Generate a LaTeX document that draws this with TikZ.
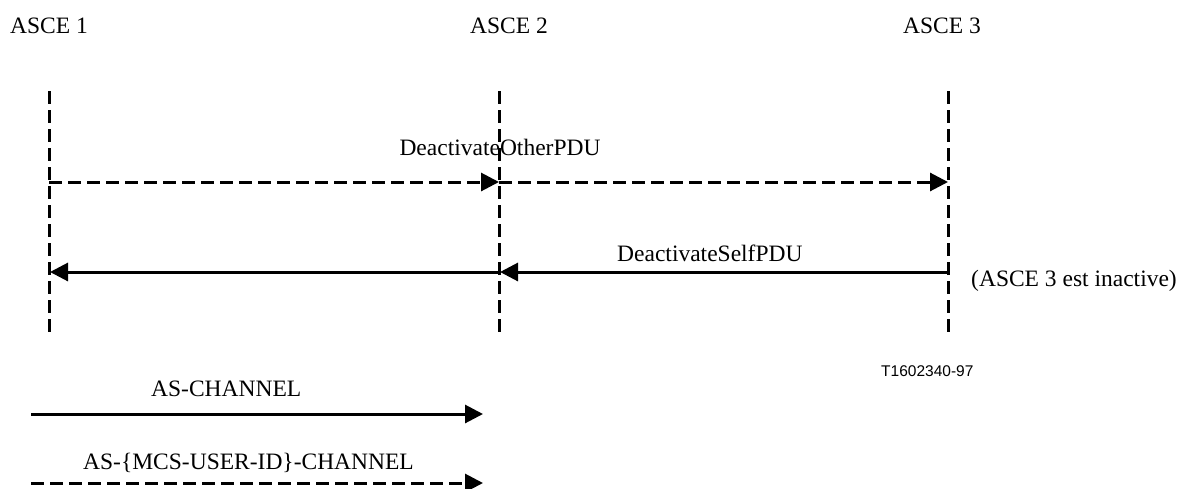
\documentclass[tikz,border=0pt]{standalone}
\usepackage{fontspec}
\setmainfont{Liberation Serif}
\newfontfamily\labelsans{Liberation Sans}
\usetikzlibrary{arrows.meta}
\begin{document}
\begin{tikzpicture}[x=1pt,y=-1pt,
  lbl/.style={inner sep=0pt,anchor=base west,font=\fontsize{23.5}{26}\selectfont},
  ref/.style={inner sep=0pt,anchor=base west,font=\labelsans\fontsize{15.5}{18}\selectfont},
  ln/.style={line width=3pt,line cap=butt},
  dsh/.style={ln,dash pattern=on 13pt off 6pt},
  life/.style={dsh},
  msg/.style={ln,-{Triangle[length=18pt,width=18pt]}},
  dmsg/.style={dsh,-{Triangle[length=18pt,width=18pt]}}]
\useasboundingbox (0,0) rectangle (1180,488);
% headers
\node[lbl] (h1) at (10,33) {ASCE 1};
\node[lbl] (h2) at (470,33) {ASCE 2};
\node[lbl] (h3) at (903,33) {ASCE 3};
% lifelines
\coordinate (t1) at (49,91);  \coordinate (b1) at (49,338);
\coordinate (t2) at (499,91); \coordinate (b2) at (499,338);
\coordinate (t3) at (948,91); \coordinate (b3) at (948,338);
\draw[life] (t1) -- (b1);
\draw[life] (t2) -- (b2);
\draw[life] (t3) -- (b3);
% message points
\coordinate (a1) at (49,182); \coordinate (a2) at (499,182); \coordinate (a3) at (948,182);
\coordinate (s1) at (50,272); \coordinate (s2) at (499,272); \coordinate (s2t) at (500,272); \coordinate (s3) at (948,272);
\draw[dmsg] (a1) -- (a2);
\draw[dmsg] (a2) -- (a3);
\draw[msg] (s3) -- (s2t);
\draw[msg] (s2) -- (s1);
\node[inner sep=0pt,anchor=base,font=\fontsize{23.5}{26}\selectfont] (other) at (500,155) {DeactivateOtherPDU};
\node[lbl] (self) at (617,261) {DeactivateSelfPDU};
\node[lbl] (inact) at (971,286) {(ASCE 3 est inactive)};
\node[ref] (ref) at (881,376) {T1602340-97};
% legend
\node[lbl] (lg1) at (151,396) {AS-CHANNEL};
\coordinate (l1a) at (31,414); \coordinate (l1b) at (483,414);
\draw[msg] (l1a) -- (l1b);
\node[lbl] (lg2) at (83,469) {AS-\{MCS-USER-ID\}-CHANNEL};
\coordinate (l2a) at (31,483); \coordinate (l2b) at (483,483);
\draw[dmsg] (l2a) -- (l2b);
\end{tikzpicture}
\end{document}
